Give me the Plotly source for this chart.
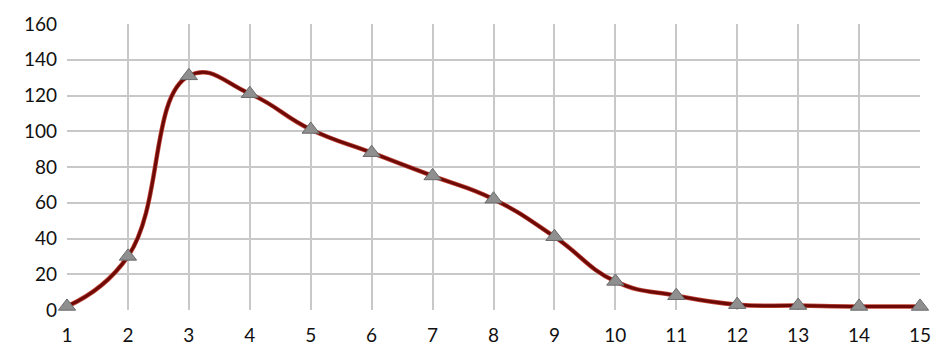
import plotly.graph_objects as go

x_vals = list(range(1, 16))
y_vals = [2, 30, 131, 121, 101, 88, 75, 62, 41, 16, 8, 3, 2.5, 2, 2]

x_ticks = list(range(1, 16))
y_ticks = list(range(0, 161, 20))

fig = go.Figure()
fig.add_trace(go.Scatter(
    x=x_vals, y=y_vals,
    mode="lines",
    line=dict(color="#c0463a", width=4.5, shape="spline", smoothing=1.3),
    hoverinfo="skip", showlegend=False, cliponaxis=False,
))
fig.add_trace(go.Scatter(
    x=x_vals, y=y_vals,
    mode="lines+markers",
    line=dict(color="#6e0a06", width=3, shape="spline", smoothing=1.3),
    marker=dict(symbol="triangle-up", size=15, color="#8f8f8f",
                line=dict(color="#6a6a6a", width=1)),
    showlegend=False, cliponaxis=False,
))

fig.update_layout(
    width=929, height=342,
    margin=dict(l=59, r=17, t=16, b=40),
    paper_bgcolor="white", plot_bgcolor="white",
    font=dict(family="Lato, 'Open Sans', sans-serif", size=19, color="#111111"),
    xaxis=dict(range=[1, 15], tickvals=x_ticks, showgrid=True, gridcolor="#c8c8c8",
               gridwidth=1.5, zeroline=False, showline=False, ticks="",
               automargin=False, ticklabelstandoff=12),
    yaxis=dict(range=[0, 160], tickvals=y_ticks, showgrid=True, gridcolor="#c8c8c8",
               gridwidth=1.5, zeroline=False, showline=False, ticks="",
               automargin=False, ticklabelstandoff=9),
)
fig.write_html("out.html")
